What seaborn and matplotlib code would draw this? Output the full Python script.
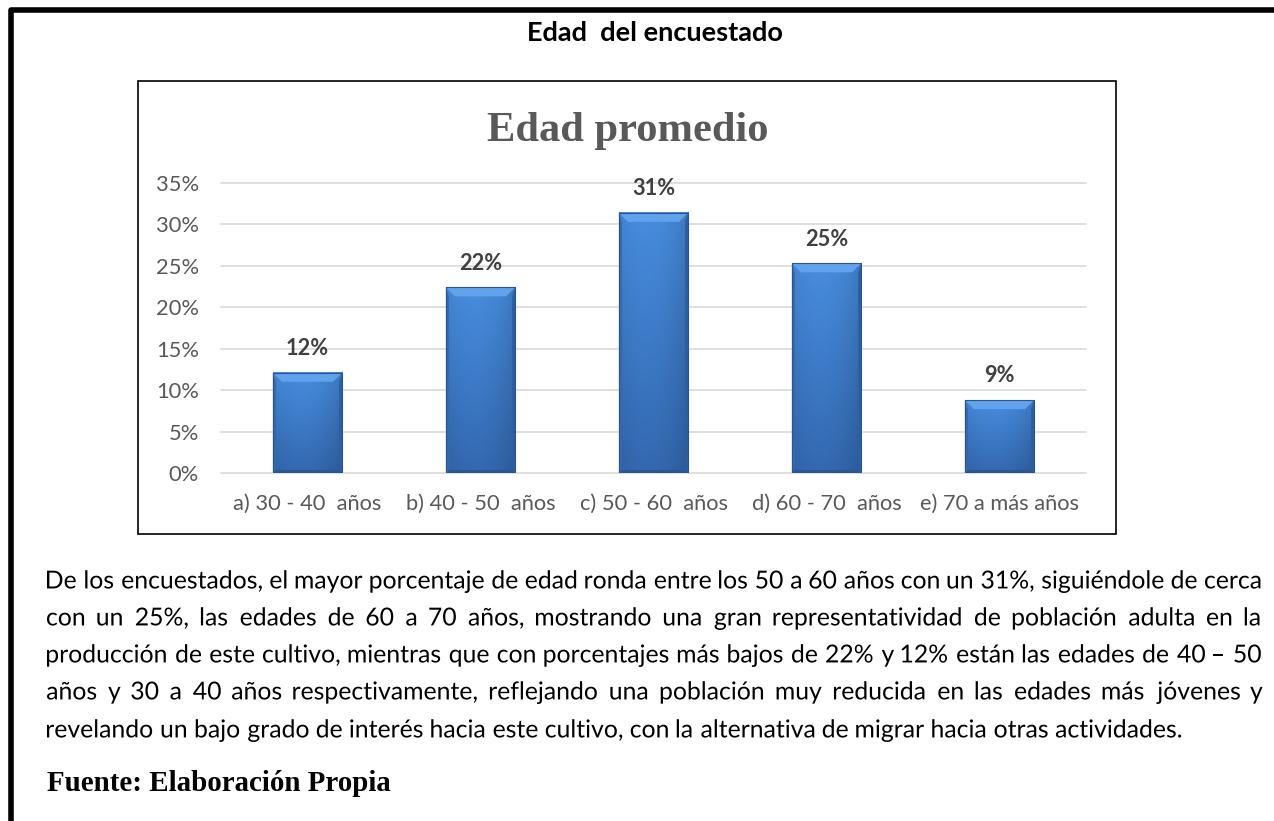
import matplotlib
matplotlib.use("Agg")
import matplotlib.pyplot as plt
import matplotlib.ticker as mtick
from matplotlib.lines import Line2D
from matplotlib.patches import Rectangle, Polygon, PathPatch
from matplotlib.textpath import TextPath
from matplotlib.font_manager import FontProperties
from matplotlib.transforms import Affine2D
import numpy as np
import seaborn as sns

sns.set_theme(style="white")
plt.rcParams['font.family'] = ['Lato', 'DejaVu Sans']

# data
age_groups = ['a) 30 - 40  años', 'b) 40 - 50  años', 'c) 50 - 60  años',
              'd) 60 - 70  años', 'e) 70 a más años']
shares = [0.121, 0.224, 0.314, 0.253, 0.088]
y_ticks = [0, 0.05, 0.10, 0.15, 0.20, 0.25, 0.30, 0.35]

page_title = 'Edad  del encuestado'
chart_title = 'Edad promedio'
source = 'Fuente: Elaboración Propia'
paragraph = [
    'De los encuestados, el mayor porcentaje de edad ronda entre los 50 a 60 años con un 31%, siguiéndole de cerca',
    'con un 25%, las edades de 60 a 70 años, mostrando una gran representatividad de población adulta en la',
    'producción de este cultivo, mientras que con porcentajes más bajos de 22% y 12% están las edades de 40 – 50',
    'años y 30 a 40 años respectivamente, reflejando una población muy reducida en las edades más jóvenes y',
    'revelando un bajo grado de interés hacia este cultivo, con la alternativa de migrar hacia otras actividades.',
]

W, H = 1274, 821
fig = plt.figure(figsize=(W / 100, H / 100), dpi=100)
fig.patch.set_facecolor('white')
renderer = fig.canvas.get_renderer()


def fx(x):
    return x / W


def fy(y):
    return 1 - y / H


def text_width(s, **kw):
    t = fig.text(0, 0, s, **kw)
    w = t.get_window_extent(renderer).width
    t.remove()
    return w


def fit(s, target, **kw):
    """font size that makes s about target pixels wide"""
    return 10 * target / text_width(s, fontsize=10, **kw)


# outer page frame (left and top only)
fig.add_artist(Line2D([fx(10.5), fx(10.5), fx(W)], [fy(H), fy(10.5), fy(10.5)],
                      lw=4, color='black', solid_joinstyle='round',
                      transform=fig.transFigure))
# chart box
fig.add_artist(Rectangle((fx(138), fy(534)), (1116 - 138) / W, (534 - 81) / H,
                         fill=False, lw=1.2, ec='black', transform=fig.transFigure))

# titles
fs = fit(page_title, 257, weight='bold')
fig.text(fx(655), fy(33), page_title, fontsize=fs, weight='bold', color='black',
         ha='center', va='center')
fs = fit(chart_title, 282, weight='bold', family='Liberation Serif')
fig.text(fx(628), fy(131), chart_title, fontsize=fs, weight='bold',
         family='Liberation Serif', color='#595959', ha='center', va='center')

# bar chart
ax = fig.add_axes([fx(221), fy(473), 865 / W, 290 / H])
sns.barplot(x=age_groups, y=shares, color='#3d7cc9', saturation=1, width=0.4,
            ax=ax, zorder=2)

px_x = 1 / 173.0
px_y = 0.35 / 290.0
ny, nx = 64, 32
v = np.linspace(0, 1, ny)[:, None, None]
u = np.linspace(0, 1, nx)[None, :, None]
top_c = np.array([0.28, 0.55, 0.87])
bot_c = np.array([0.20, 0.41, 0.69])
grad = np.clip((top_c + (bot_c - top_c) * v) * (1 - 0.4 * (u - 0.4) ** 2), 0, 1)

for p in ax.patches:
    x0, y0, w, h = p.get_x(), p.get_y(), p.get_width(), p.get_height()
    x1, y1 = x0 + w, y0 + h
    ax.imshow(grad, extent=(x0, x1, y0, y1), aspect='auto', origin='upper',
              zorder=3, interpolation='bilinear')
    s, t, b = 3 * px_x, 9 * px_y, 3 * px_y
    ax.add_patch(Polygon([(x0, y1), (x1, y1), (x1 - 9 * px_x, y1 - t), (x0 + 9 * px_x, y1 - t)],
                         closed=True, fc='#62a2ec', ec='none', zorder=4))
    ax.add_patch(Polygon([(x0, y0), (x0, y1), (x0 + s, y1 - t), (x0 + s, y0 + b)],
                         closed=True, fc='#3469ae', ec='none', zorder=4))
    ax.add_patch(Polygon([(x1, y0), (x1, y1), (x1 - s, y1 - t), (x1 - s, y0 + b)],
                         closed=True, fc='#2d5e9f', ec='none', zorder=4))
    ax.add_patch(Polygon([(x0, y0), (x1, y0), (x1 - s, y0 + b), (x0 + s, y0 + b)],
                         closed=True, fc='#2a5794', ec='none', zorder=4))
    ax.add_patch(Rectangle((x0, y0), w, h, fill=False, ec='#2b5591', lw=0.8, zorder=5))

label_fs = fit('12%', 43, weight='bold')
for i, val in enumerate(shares):
    ax.annotate(f'{val * 100:.0f}%', (i, val), xytext=(0, 17.5), textcoords='offset points',
                ha='center', va='center', fontsize=label_fs, weight='bold',
                color='#404040', zorder=6)

ax.set_xlim(-0.5, len(age_groups) - 0.5)
ax.set_ylim(0, 0.35)
ax.set_yticks(y_ticks)
ax.yaxis.set_major_formatter(mtick.PercentFormatter(1.0, decimals=0))
ax.set_xlabel('')
ax.set_ylabel('')
ax.set_facecolor('none')
for sp in ax.spines.values():
    sp.set_visible(False)
ax.yaxis.grid(True, color='#d9d9d9', lw=1.2)
ax.set_axisbelow(True)
for gl in ax.get_ygridlines():
    gl.set_clip_on(False)
tick_fs = fit(age_groups[0], 148)
ax.tick_params(axis='x', length=0, pad=15, labelsize=tick_fs, labelcolor='#595959')
ax.tick_params(axis='y', length=0, pad=16, labelsize=tick_fs, labelcolor='#595959')

# paragraph, justified; words drawn as text paths so they share one baseline
left, right = 47, 1263
par_fs = fit(paragraph[-1], 1138)
em = par_fs * 100 / 72
fp = FontProperties(family='Lato', size=par_fs)
line_y = [581, 618, 655, 692, 730]
for k, (line, yc) in enumerate(zip(paragraph, line_y)):
    base = H - (yc + 0.3 * em)
    words = line.split(' ')
    widths = [text_width(wd, fontsize=par_fs) for wd in words]
    if k == len(paragraph) - 1:
        gap = text_width('a a', fontsize=par_fs) - 2 * text_width('a', fontsize=par_fs)
    else:
        gap = (right - left - sum(widths)) / (len(words) - 1)
    x = left
    for wd, wdt in zip(words, widths):
        tp = TextPath((0, 0), wd, size=em, prop=fp)
        x_ink = tp.get_extents().x0
        fig.add_artist(PathPatch(tp, transform=Affine2D().translate(x - x_ink, base),
                                 fc='black', ec='none', lw=0))
        x += wdt + gap

fs = fit(source, 345, weight='bold', family='Liberation Serif')
fig.text(fx(47), fy(783), source, fontsize=fs, weight='bold', family='Liberation Serif',
         color='black', ha='left', va='center')

fig.savefig('out.png', dpi=100, facecolor='white')
